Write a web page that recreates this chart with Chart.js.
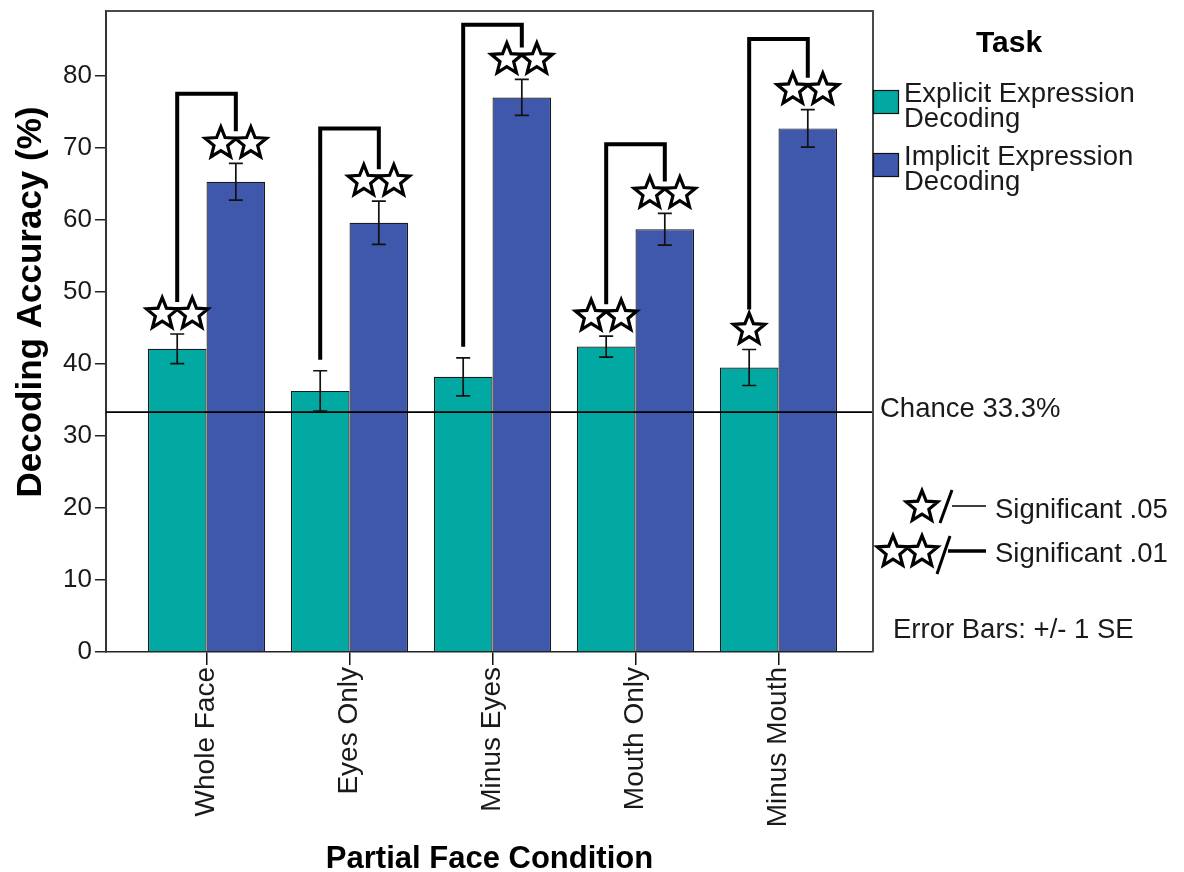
<!DOCTYPE html>
<html>
<head>
<meta charset="utf-8">
<style>
  html, body { margin: 0; padding: 0; background: #ffffff; }
  #wrap { width: 1184px; height: 872px; }
</style>
<script src="https://cdn.jsdelivr.net/npm/chart.js@4.4.1/dist/chart.umd.min.js"></script>
</head>
<body>
<div id="wrap"><canvas id="chart" width="1184" height="872"></canvas></div>
<script>
// Partial face conditions along the x axis
const categories = ['Whole Face', 'Eyes Only', 'Minus Eyes', 'Mouth Only', 'Minus Mouth'];

// Mean decoding accuracy (%) and standard errors per task
const explicitMeans = [42.1, 36.25, 38.2, 42.4, 39.5];
const explicitSE    = [2.05, 2.8, 2.65, 1.45, 2.5];
const implicitMeans = [65.3, 59.6, 77.0, 58.7, 72.7];
const implicitSE    = [2.55, 3.0, 2.5, 2.2, 2.6];

// Significance vs chance: number of stars above each bar (0 = n.s.)
const explicitStars = [2, 0, 0, 2, 1];
const implicitStars = [2, 2, 2, 2, 2];

// Explicit vs implicit comparison brackets (height in %)
const bracketTops = [77.5, 72.7, 87.1, 70.5, 85.1];

// Chance level for a three-alternative choice
const chanceLevel = 33.3;

const seriesLabels = ['Explicit Expression Decoding', 'Implicit Expression Decoding'];
const legendLines  = [['Explicit Expression', 'Decoding'], ['Implicit Expression', 'Decoding']];
const seriesColors = ['#02A8A2', '#3F58AB'];

const FONT = '"Liberation Sans", Arial, Helvetica, sans-serif';
const NOTE_FONT = '27.5px ' + FONT;

function starPath(ctx, cx, cy, R, r) {
  ctx.beginPath();
  for (let k = 0; k < 10; k++) {
    const rad = k % 2 === 0 ? R : r;
    const a = -Math.PI / 2 + k * Math.PI / 5;
    const px = cx + rad * Math.cos(a), py = cy + rad * Math.sin(a);
    if (k === 0) ctx.moveTo(px, py); else ctx.lineTo(px, py);
  }
  ctx.closePath();
}

function drawStar(ctx, cx, cy) {
  starPath(ctx, cx, cy, 16.5, 7.2);
  ctx.fillStyle = '#ffffff';
  ctx.fill();
  ctx.lineWidth = 3.2;
  ctx.lineJoin = 'miter';
  ctx.strokeStyle = '#000000';
  ctx.stroke();
}

function drawStars(ctx, cx, cy, n) {
  if (n === 1) drawStar(ctx, cx, cy);
  if (n === 2) { drawStar(ctx, cx - 15, cy); drawStar(ctx, cx + 15, cy); }
}

// Frame, chance line, error bars, significance marks, legend and notes
const annotations = {
  id: 'annotations',
  afterDatasetsDraw(chart) {
    const ctx = chart.ctx;
    const area = chart.chartArea;
    const y = chart.scales.y;
    const means = [explicitMeans, implicitMeans];
    const ses = [explicitSE, implicitSE];
    const stars = [explicitStars, implicitStars];
    const metas = [chart.getDatasetMeta(0), chart.getDatasetMeta(1)];

    ctx.save();

    // chance line
    const cy = y.getPixelForValue(chanceLevel);
    ctx.strokeStyle = '#000000';
    ctx.lineWidth = 1.6;
    ctx.beginPath();
    ctx.moveTo(area.left, cy);
    ctx.lineTo(area.right, cy);
    ctx.stroke();

    // error bars (+/- 1 SE)
    const legEnds = [[], []];
    for (let d = 0; d < 2; d++) {
      metas[d].data.forEach((bar, i) => {
        const top = y.getPixelForValue(means[d][i] + ses[d][i]);
        const bot = y.getPixelForValue(means[d][i] - ses[d][i]);
        ctx.strokeStyle = '#111111';
        ctx.lineWidth = 1.7;
        ctx.beginPath();
        ctx.moveTo(bar.x, top); ctx.lineTo(bar.x, bot);
        ctx.moveTo(bar.x - 7, top); ctx.lineTo(bar.x + 7, top);
        ctx.moveTo(bar.x - 7, bot); ctx.lineTo(bar.x + 7, bot);
        ctx.stroke();
        const n = stars[d][i];
        drawStars(ctx, bar.x, top - 20, n);
        legEnds[d][i] = top - (n === 2 ? 32 : n === 1 ? 40 : 11);
      });
    }

    // comparison brackets
    ctx.strokeStyle = '#000000';
    ctx.lineWidth = 4;
    ctx.lineJoin = 'miter';
    ctx.lineCap = 'butt';
    bracketTops.forEach((v, i) => {
      const xl = metas[0].data[i].x, xr = metas[1].data[i].x;
      const ty = y.getPixelForValue(v);
      ctx.beginPath();
      ctx.moveTo(xl, legEnds[0][i]);
      ctx.lineTo(xl, ty);
      ctx.lineTo(xr, ty);
      ctx.lineTo(xr, legEnds[1][i]);
      ctx.stroke();
    });

    // plot frame (top and right)
    ctx.strokeStyle = '#4a4a4a';
    ctx.lineWidth = 2;
    ctx.beginPath();
    ctx.moveTo(area.left, area.top);
    ctx.lineTo(area.right, area.top);
    ctx.lineTo(area.right, area.bottom);
    ctx.stroke();

    // chance label
    ctx.fillStyle = '#1a1a1a';
    ctx.font = NOTE_FONT;
    ctx.textAlign = 'left';
    ctx.textBaseline = 'alphabetic';
    ctx.fillText('Chance ' + chanceLevel + '%', 880, cy + 5);

    // y axis title
    ctx.save();
    ctx.translate(31, 302);
    ctx.rotate(-Math.PI / 2);
    ctx.font = 'bold 35px ' + FONT;
    ctx.textAlign = 'center';
    ctx.textBaseline = 'middle';
    ctx.fillStyle = '#000000';
    ctx.fillText('Decoding Accuracy (%)', 0, 0);
    ctx.restore();

    // legend
    ctx.fillStyle = '#000000';
    ctx.font = 'bold 30px ' + FONT;
    ctx.textAlign = 'center';
    ctx.fillText('Task', 1009, 52);
    ctx.textAlign = 'left';
    ctx.font = NOTE_FONT;
    const boxTops = [90, 153];
    for (let d = 0; d < 2; d++) {
      ctx.fillStyle = seriesColors[d];
      ctx.fillRect(873, boxTops[d], 26, 24);
      ctx.strokeStyle = '#111111';
      ctx.lineWidth = 1.2;
      ctx.strokeRect(873.5, boxTops[d] + 0.5, 25, 23);
      ctx.fillStyle = '#1a1a1a';
      legendLines[d].forEach((line, k) => {
        ctx.fillText(line, 904, boxTops[d] + 12 + k * 25);
      });
    }

    // significance key
    drawStar(ctx, 922, 507);
    drawStar(ctx, 893, 552);
    drawStar(ctx, 922, 552);
    ctx.strokeStyle = '#000000';
    ctx.lineWidth = 3;
    ctx.beginPath();
    ctx.moveTo(952, 490); ctx.lineTo(940, 523);
    ctx.moveTo(950, 536); ctx.lineTo(937, 574);
    ctx.stroke();
    ctx.lineWidth = 1.5;
    ctx.beginPath();
    ctx.moveTo(952, 506); ctx.lineTo(986, 506);
    ctx.stroke();
    ctx.lineWidth = 3.5;
    ctx.beginPath();
    ctx.moveTo(948, 551); ctx.lineTo(986, 551);
    ctx.stroke();
    ctx.fillStyle = '#1a1a1a';
    ctx.font = NOTE_FONT;
    ctx.fillText('Significant .05', 995, 518);
    ctx.fillText('Significant .01', 995, 562);
    ctx.fillText('Error Bars: +/- 1 SE', 893, 638);

    ctx.restore();
  }
};

const toPoints = (vals) => vals.map((v, i) => ({ x: i, y: v }));

new Chart(document.getElementById('chart'), {
  type: 'bar',
  data: {
    datasets: [
      { label: seriesLabels[0], data: toPoints(explicitMeans), backgroundColor: seriesColors[0],
        borderColor: '#1a1a1a', borderWidth: 1.2 },
      { label: seriesLabels[1], data: toPoints(implicitMeans), backgroundColor: seriesColors[1],
        borderColor: '#1a1a1a', borderWidth: 1.2 }
    ]
  },
  options: {
    responsive: false,
    animation: false,
    devicePixelRatio: 1,
    categoryPercentage: 0.82,
    barPercentage: 1.0,
    layout: { padding: { left: 0, right: 311, top: 11, bottom: 0 } },
    plugins: { legend: { display: false }, tooltip: { enabled: false } },
    scales: {
      x: {
        type: 'linear',
        min: -0.703,
        max: 4.661,
        offset: false,
        afterFit: (s) => { s.height = 220; s.paddingLeft = 0; s.paddingRight = 0; },
        grid: { offset: false, drawOnChartArea: false, drawTicks: true, tickLength: 13, color: '#111111', lineWidth: 1.5 },
        border: { display: true, color: '#222222', width: 1.5 },
        ticks: {
          stepSize: 1,
          includeBounds: false,
          autoSkip: false,
          minRotation: 90,
          maxRotation: 90,
          padding: 2,
          color: '#1a1a1a',
          font: { family: FONT, size: 28 },
          callback: (v) => (Number.isInteger(v) && categories[v]) ? categories[v] : ''
        },
        title: {
          display: true,
          text: 'Partial Face Condition',
          color: '#000000',
          font: { family: FONT, size: 31, weight: 'bold', lineHeight: 0.8 },
          padding: { top: 0, bottom: 0 }
        }
      },
      y: {
        min: 0,
        max: 89,
        afterFit: (s) => { s.width = 106; s.paddingTop = 0; s.paddingBottom = 0; },
        grid: { drawOnChartArea: false, drawTicks: true, tickLength: 11, color: '#222222', lineWidth: 1.5 },
        border: { display: true, color: '#333333', width: 2 },
        ticks: {
          stepSize: 10,
          includeBounds: false,
          padding: 3,
          color: '#1a1a1a',
          font: { family: FONT, size: 26 }
        }
      }
    }
  },
  plugins: [annotations]
});
</script>
</body>
</html>
